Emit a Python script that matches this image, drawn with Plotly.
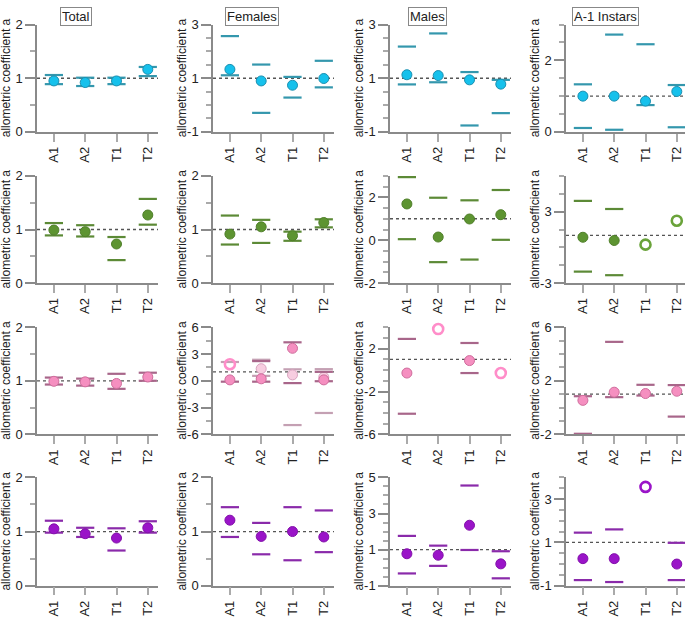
import plotly.graph_objects as go

categories = ["A1", "A2", "T1", "T2"]
panel_titles = ["Total", "Females", "Males", "A-1 Instars"]
y_title = "allometric coefficient a"

# Row 1 (cyan) – panels: Total, Females, Males, A-1 Instars
cyan_est = [[0.95, 0.92, 0.95, 1.165], [1.33, 0.90, 0.74, 0.99], [1.13, 1.10, 0.94, 0.78], [1.0, 1.0, 0.86, 1.13]]
cyan_lo = [[0.89, 0.855, 0.89, 1.04], [1.11, -0.29, 0.28, 0.66], [0.77, 0.85, -0.76, -0.30], [0.11, 0.06, 0.75, 0.13]]
cyan_hi = [[1.06, 1.01, 1.01, 1.21], [2.57, 1.51, 1.05, 1.65], [2.18, 2.67, 1.23, 0.94], [1.33, 2.72, 2.45, 1.31]]
cyan_open = [[0, 0, 0, 0], [0, 0, 0, 0], [0, 0, 0, 0], [0, 0, 0, 0]]

# Row 2 (green)
green_est = [[0.99, 0.96, 0.73, 1.27], [0.915, 1.05, 0.885, 1.13], [1.69, 0.15, 0.99, 1.19], [0.85, 0.58, 0.23, 2.24]]
green_lo = [[0.89, 0.87, 0.43, 1.09], [0.72, 0.75, 0.79, 1.04], [0.05, -1.02, -0.90, 0.02], [-2.03, -2.33, None, None]]
green_hi = [[1.12, 1.08, 0.86, 1.57], [1.26, 1.18, 0.96, 1.19], [2.94, 1.98, 1.86, 2.34], [3.9, 3.22, None, None]]
green_open = [[0, 0, 0, 0], [0, 0, 0, 0], [0, 0, 0, 0], [0, 0, 1, 1]]

# Row 3 (pink)
pink_est = [[0.99, 0.98, 0.95, 1.07], [0.1, 0.22, 3.63, 0.1], [-0.28, 3.82, 0.88, -0.28], [0.54, 1.15, 1.05, 1.22]]
pink_lo = [[0.93, 0.91, 0.85, 1.0], [-0.1, -0.1, -0.26, -0.05], [-4.07, None, -0.28, None], [-1.95, 0.78, 0.9, -0.67]]
pink_hi = [[1.06, 1.04, 1.13, 1.15], [None, 2.2, 4.3, 1.0], [2.9, None, 2.52, None], [0.85, 4.9, 1.7, 1.68]]
pink_open = [[0, 0, 0, 0], [0, 0, 0, 0], [0, 1, 0, 1], [0, 0, 0, 0]]
# second (light) series shown in the Females panel of row 3
pink_light_est = [1.85, 1.35, 0.66, 0.4]
pink_light_lo = [None, 0.55, -4.95, -3.6]
pink_light_hi = [2.1, 2.35, 1.28, 1.3]
pink_light_open = [1, 0, 0, 0]

# Row 4 (purple)
purple_est = [[1.05, 0.96, 0.88, 1.07], [1.21, 0.91, 1.0, 0.9], [0.77, 0.69, 2.35, 0.21], [0.25, 0.25, 3.56, 0.0]]
purple_lo = [[0.98, 0.9, 0.65, 0.98], [0.9, 0.58, 0.47, 0.62], [-0.32, 0.1, 0.98, -0.59], [-0.74, -0.83, None, -0.74]]
purple_hi = [[1.2, 1.07, 1.06, 1.19], [1.45, 1.16, 1.45, 1.39], [1.76, 1.22, 4.55, 0.91], [1.45, 1.6, None, 0.98]]
purple_open = [[0, 0, 0, 0], [0, 0, 0, 0], [0, 0, 0, 0], [0, 0, 1, 0]]

# y-axis settings per panel: (min, max, tick0, dtick, minor dtick)
y_axes = [
    [(0, 2, 0, 1, 0.5), (-1, 3, -1, 2, 0.5), (-1, 3, -1, 2, 0.5), (0, 3, 0, 2, 0.5)],
    [(0, 2, 0, 1, 0.5), (0, 2, 0, 1, 0.5), (-2, 3, -2, 2, 0.5), (-3, 6, -3, 6, 1.5)],
    [(0, 2, 0, 1, 0.5), (-6, 6, -6, 3, 1.5), (-6, 4, -6, 4, 1), (-2, 6, -2, 4, 1)],
    [(0, 2, 0, 1, 0.5), (0, 2, 0, 1, 0.5), (-1, 5, -1, 2, 0.5), (-1, 4, -1, 2, 0.5)],
]

rows = [
    dict(est=cyan_est, lo=cyan_lo, hi=cyan_hi, op=cyan_open,
         fill="#16c1ec", edge="#1a8fb0", cap="#3497ad", ring="#16c1ec"),
    dict(est=green_est, lo=green_lo, hi=green_hi, op=green_open,
         fill="#5d9431", edge="#4f7f29", cap="#5c8a36", ring="#6aa33a"),
    dict(est=pink_est, lo=pink_lo, hi=pink_hi, op=pink_open,
         fill="#f58fc0", edge="#cf6d9c", cap="#a8668a", ring="#ff8dc9"),
    dict(est=purple_est, lo=purple_lo, hi=purple_hi, op=purple_open,
         fill="#9a14c8", edge="#8210aa", cap="#8a2aaa", ring="#9a14c8"),
]

W, H = 685, 623
col_left = [37, 213, 390, 566]
col_right = [158, 334, 511, 685]
row_top = [18, 173, 328, 482]
row_bot = [128, 283, 438, 593]

FONT = "Arial, Liberation Sans, sans-serif"
AXC = "#8a8a8a"

fig = go.Figure()
layout = dict(width=W, height=H, margin=dict(l=0, r=0, t=0, b=0),
              paper_bgcolor="white", plot_bgcolor="white", showlegend=False,
              font=dict(family=FONT, color="#222", size=13))
shapes = []
annotations = []
xpos = list(range(len(categories)))


def add_series(k, est, lo, hi, op, fill, edge, cap, ring, msize=10):
    xs = "x" if k == 1 else f"x{k}"
    ys = "y" if k == 1 else f"y{k}"
    cx, cy = [], []
    for i in xpos:
        for v in (lo[i], hi[i]):
            if v is not None:
                cx.append(i)
                cy.append(v)
    fig.add_trace(go.Scatter(x=cx, y=cy, mode="markers", xaxis=xs, yaxis=ys,
                             marker=dict(symbol="line-ew", size=13,
                                         line=dict(color=cap, width=2.2)),
                             hoverinfo="skip", cliponaxis=False))
    fx = [i for i in xpos if not op[i]]
    fy = [est[i] for i in xpos if not op[i]]
    fig.add_trace(go.Scatter(x=fx, y=fy, mode="markers", xaxis=xs, yaxis=ys,
                             cliponaxis=False,
                             marker=dict(symbol="circle", size=msize, color=fill,
                                         line=dict(color=edge, width=1))))
    ox = [i for i in xpos if op[i]]
    oy = [est[i] for i in xpos if op[i]]
    if ox:
        fig.add_trace(go.Scatter(x=ox, y=oy, mode="markers", xaxis=xs, yaxis=ys,
                                 cliponaxis=False,
                                 marker=dict(symbol="circle-open", size=msize,
                                             color=ring, line=dict(color=ring, width=2.6))))


def fmt(v):
    return "%g" % v


for r in range(4):
    for c in range(4):
        k = r * 4 + c + 1
        xa = "xaxis" if k == 1 else f"xaxis{k}"
        ya = "yaxis" if k == 1 else f"yaxis{k}"
        xs = "x" if k == 1 else f"x{k}"
        ys = "y" if k == 1 else f"y{k}"
        pxw = 31.3
        x0 = -0.54
        x1 = x0 + (col_right[c] - col_left[c]) / pxw
        layout[xa] = dict(domain=[col_left[c] / W, col_right[c] / W], anchor=ys,
                          range=[x0, x1], tickvals=xpos, ticktext=categories,
                          tickangle=-90, ticks="outside", ticklen=8, tickwidth=1.5,
                          tickcolor="#aaaaaa", showline=True, linecolor=AXC, linewidth=1.5,
                          showgrid=False, zeroline=False, tickfont=dict(size=13, color="#222"),
                          fixedrange=True)
        ymin, ymax, t0, dt, mdt = y_axes[r][c]
        tv = []
        v = t0
        while v <= ymax + 1e-9:
            tv.append(v)
            v += dt
        layout[ya] = dict(domain=[1 - row_bot[r] / H, 1 - row_top[r] / H], anchor=xs,
                          range=[ymin, ymax], tickmode="array", tickvals=tv,
                          ticktext=[fmt(t) for t in tv], ticks="outside",
                          ticklen=10, tickwidth=1.5, tickcolor=AXC, showline=True,
                          linecolor=AXC, linewidth=1.5, showgrid=False, zeroline=False,
                          tickfont=dict(size=13, color="#222"),
                          minor=dict(tickmode="linear", tick0=t0, dtick=mdt, ticks="outside",
                                     ticklen=5, tickwidth=1.5, tickcolor="#aaaaaa",
                                     showgrid=False),
                          fixedrange=True)
        shapes.append(dict(type="line", xref=f"{xs} domain", yref=ys, x0=0, x1=1,
                           y0=1, y1=1, layer="below",
                           line=dict(color="#555", width=1.3, dash="dot")))
        annotations.append(dict(text=y_title, textangle=-90, xref="paper", yref="paper",
                                x=(col_left[c] - 31) / W,
                                y=1 - (row_top[r] + row_bot[r]) / 2 / H,
                                showarrow=False, font=dict(size=12, color="#222"),
                                xanchor="center", yanchor="middle"))
        rw = rows[r]
        if r == 2 and c == 1:
            add_series(k, pink_light_est, pink_light_lo, pink_light_hi, pink_light_open,
                       "#f7cde0", "#d9a3bf", "#c4a0b3", "#ff8dc9")
        add_series(k, rw["est"][c], rw["lo"][c], rw["hi"][c], rw["op"][c],
                   rw["fill"], rw["edge"], rw["cap"], rw["ring"])

title_x = [76, 252, 427, 605]
for c in range(4):
    annotations.append(dict(text=panel_titles[c], xref="paper", yref="paper",
                            x=title_x[c] / W, y=1 - 10 / H, showarrow=False,
                            font=dict(size=13, color="#222"), bordercolor="#888",
                            borderwidth=1, borderpad=1, bgcolor="white",
                            xanchor="center", yanchor="middle"))

layout["shapes"] = shapes
layout["annotations"] = annotations
fig.update_layout(**layout)
fig.write_html("out.html", config={"displayModeBar": False},
               post_script="document.body.style.margin='0px';")
